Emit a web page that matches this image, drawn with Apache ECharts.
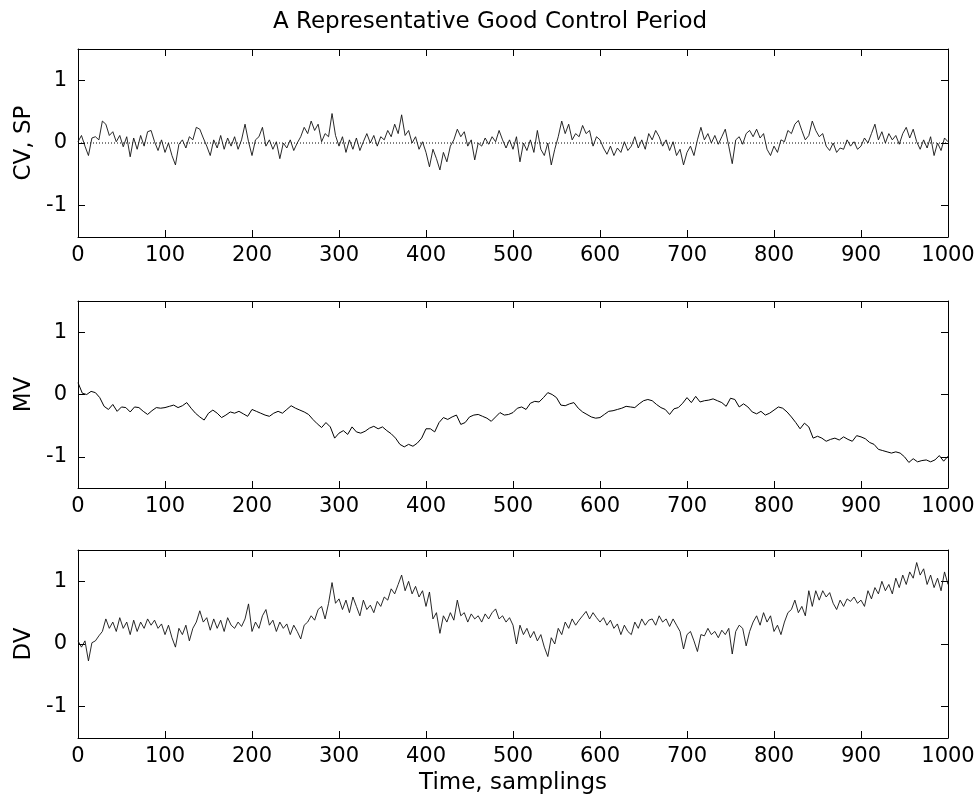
<!DOCTYPE html>
<html>
<head>
<meta charset="utf-8">
<script src="https://cdn.jsdelivr.net/npm/echarts@6/dist/echarts.min.js"></script>
<style>
html,body{margin:0;padding:0;background:#fff;}
#chart{width:980px;height:812px;}
</style>
</head>
<body>
<div id="chart"></div>
<script>
// ---- data ----
const titleText = "A Representative Good Control Period";
const panelNames = ["CV, SP", "MV", "DV"];
const xAxisName = "Time, samplings";
const xTicks = [0, 100, 200, 300, 400, 500, 600, 700, 800, 900, 1000];
const yTicks = [-1, 0, 1];

// CV sampled every 4 samplings (0..1000)
const cvStep = 4;
const cv = [
  0.02, 0.12, -0.05, -0.2, 0.08, 0.1, 0.05, 0.35, 0.3, 0.12, 0.18, 0.02, 0.12, -0.06, 0.1, -0.22, 0.08, -0.1, 0.12, -0.05, 0.18, 0.2, 0.02, -0.12, 0.05,
  -0.15, 0.0, -0.2, -0.35, -0.02, 0.05, -0.08, 0.1, 0.05, 0.25, 0.22, 0.08, -0.05, -0.2, 0.05, -0.08, 0.12, -0.1, 0.08, -0.05, 0.1, -0.1, 0.05, 0.3, 0.02,
  -0.2, 0.05, 0.1, 0.25, -0.05, 0.05, -0.1, 0.02, -0.25, 0.0, -0.08, 0.05, -0.12, 0.0, 0.1, 0.25, 0.15, 0.35, 0.2, 0.3, 0.02, 0.15, 0.1, 0.47, 0.12,
  -0.05, 0.1, -0.15, 0.05, -0.1, 0.08, -0.12, 0.02, 0.15, 0.0, 0.12, -0.05, 0.1, 0.05, 0.2, 0.1, 0.3, 0.15, 0.45, 0.12, 0.2, 0.0, 0.1, -0.1, 0.02,
  -0.15, -0.38, -0.1, -0.25, -0.43, -0.15, -0.3, -0.05, 0.05, 0.22, 0.1, 0.18, -0.05, 0.05, -0.27, 0.0, -0.05, 0.08, -0.02, 0.1, 0.02, 0.2, 0.05, -0.08, 0.05,
  -0.1, 0.1, -0.3, 0.0, -0.12, 0.05, -0.15, 0.2, -0.1, -0.2, 0.0, -0.35, -0.1, 0.1, 0.35, 0.15, 0.3, 0.05, 0.15, 0.1, 0.28, 0.15, 0.2, -0.05, 0.1,
  0.05, -0.08, -0.18, -0.05, -0.2, -0.08, -0.15, 0.02, -0.12, -0.05, 0.1, -0.08, 0.05, -0.1, 0.15, 0.05, 0.2, 0.1, -0.05, 0.05, -0.12, 0.02, -0.2, -0.1, -0.35,
  -0.15, -0.05, -0.2, 0.05, 0.25, 0.05, 0.15, 0.0, 0.12, -0.02, 0.1, 0.22, -0.05, -0.33, 0.05, 0.1, -0.02, 0.15, 0.2, 0.1, 0.22, 0.08, 0.15, -0.1, -0.2,
  -0.05, -0.15, 0.05, 0.02, 0.2, 0.15, 0.3, 0.36, 0.2, 0.05, 0.12, 0.35, 0.2, 0.1, 0.15, -0.05, -0.12, 0.0, -0.15, -0.08, -0.1, 0.05, -0.05, 0.02, -0.1,
  -0.05, 0.08, 0.0, 0.15, 0.3, 0.05, 0.18, 0.0, 0.15, 0.05, 0.12, -0.02, 0.15, 0.25, 0.08, 0.22, 0.02, -0.1, 0.05, -0.08, 0.1, -0.2, 0.0, -0.12, 0.08, 0.02
];

// SP (set point), constant
const spX = [0, 1000];
const sp = [0, 0];

// MV sampled every 5 samplings (0..1000)
const mvStep = 5;
const mv = [
  0.19, 0.02, 0.0, 0.05, 0.03, -0.05, -0.19, -0.24, -0.16, -0.27, -0.2, -0.21, -0.28, -0.2, -0.21, -0.27, -0.32, -0.26, -0.21, -0.22,
  -0.21, -0.19, -0.17, -0.21, -0.18, -0.13, -0.22, -0.3, -0.36, -0.41, -0.3, -0.25, -0.3, -0.37, -0.33, -0.28, -0.3, -0.27, -0.31, -0.35,
  -0.24, -0.27, -0.3, -0.33, -0.35, -0.3, -0.27, -0.3, -0.24, -0.18, -0.22, -0.25, -0.28, -0.32, -0.4, -0.47, -0.53, -0.45, -0.52, -0.7,
  -0.62, -0.58, -0.64, -0.52, -0.6, -0.62, -0.59, -0.54, -0.51, -0.55, -0.52, -0.58, -0.63, -0.7, -0.8, -0.84, -0.8, -0.83, -0.78, -0.7,
  -0.55, -0.55, -0.6, -0.45, -0.37, -0.4, -0.36, -0.33, -0.48, -0.45, -0.36, -0.33, -0.32, -0.35, -0.38, -0.43, -0.36, -0.29, -0.33, -0.32,
  -0.29, -0.22, -0.2, -0.24, -0.14, -0.11, -0.12, -0.05, 0.03, 0.0, -0.05, -0.17, -0.18, -0.15, -0.13, -0.22, -0.28, -0.32, -0.36, -0.38,
  -0.37, -0.32, -0.27, -0.26, -0.24, -0.22, -0.19, -0.2, -0.21, -0.15, -0.1, -0.08, -0.1, -0.16, -0.21, -0.24, -0.32, -0.23, -0.21, -0.14,
  -0.05, -0.13, -0.03, -0.12, -0.1, -0.09, -0.07, -0.1, -0.13, -0.19, -0.06, -0.08, -0.2, -0.15, -0.2, -0.28, -0.31, -0.27, -0.33, -0.3,
  -0.25, -0.2, -0.22, -0.28, -0.36, -0.45, -0.55, -0.46, -0.52, -0.7, -0.67, -0.7, -0.75, -0.72, -0.7, -0.73, -0.68, -0.72, -0.75, -0.66,
  -0.68, -0.71, -0.77, -0.8, -0.88, -0.9, -0.92, -0.94, -0.92, -0.94, -1.0, -1.09, -1.03, -1.08, -1.06, -1.05, -1.08, -1.05, -0.98, -1.07, -0.99
];

// DV sampled every 4 samplings (0..1000)
const dvStep = 4;
const dv = [
  0.05, -0.05, 0.05, -0.27, 0.02, 0.05, 0.13, 0.2, 0.4, 0.25, 0.35, 0.2, 0.42, 0.25, 0.35, 0.15, 0.38, 0.2, 0.35, 0.25, 0.4, 0.3, 0.38, 0.25, 0.32,
  0.15, 0.3, 0.1, -0.05, 0.25, 0.15, 0.3, 0.05, 0.25, 0.35, 0.53, 0.35, 0.42, 0.22, 0.4, 0.25, 0.38, 0.2, 0.42, 0.3, 0.25, 0.35, 0.28, 0.4, 0.64,
  0.2, 0.35, 0.25, 0.45, 0.55, 0.3, 0.38, 0.2, 0.35, 0.25, 0.32, 0.15, 0.3, 0.2, 0.08, 0.3, 0.35, 0.45, 0.38, 0.55, 0.6, 0.4, 0.65, 0.98, 0.65,
  0.72, 0.55, 0.7, 0.5, 0.75, 0.6, 0.45, 0.7, 0.55, 0.62, 0.5, 0.68, 0.6, 0.75, 0.7, 0.88, 0.8, 0.95, 1.1, 0.85, 1.0, 0.8, 0.92, 0.75, 0.85,
  0.6, 0.83, 0.4, 0.5, 0.17, 0.45, 0.35, 0.5, 0.38, 0.7, 0.45, 0.5, 0.35, 0.48, 0.4, 0.45, 0.35, 0.48, 0.4, 0.5, 0.56, 0.4, 0.45, 0.35, 0.42,
  0.3, 0.0, 0.3, 0.15, 0.25, 0.1, 0.2, 0.05, 0.15, -0.05, -0.2, 0.1, 0.0, 0.25, 0.15, 0.35, 0.25, 0.4, 0.3, 0.38, 0.45, 0.52, 0.4, 0.5, 0.42,
  0.35, 0.42, 0.3, 0.38, 0.25, 0.32, 0.15, 0.3, 0.2, 0.15, 0.35, 0.25, 0.4, 0.3, 0.38, 0.4, 0.3, 0.45, 0.35, 0.4, 0.28, 0.4, 0.3, 0.2, -0.08,
  0.15, 0.2, 0.05, -0.12, 0.15, 0.13, 0.25, 0.15, 0.2, 0.1, 0.22, 0.15, 0.25, -0.16, 0.2, 0.3, 0.25, -0.03, 0.2, 0.35, 0.45, 0.3, 0.5, 0.35, 0.45,
  0.2, 0.3, 0.15, 0.35, 0.5, 0.55, 0.7, 0.5, 0.6, 0.45, 0.85, 0.6, 0.85, 0.7, 0.85, 0.75, 0.82, 0.65, 0.55, 0.7, 0.6, 0.72, 0.68, 0.75, 0.65,
  0.7, 0.6, 0.85, 0.72, 0.9, 0.8, 1.0, 0.85, 0.95, 0.8, 1.05, 0.9, 1.1, 0.95, 1.15, 1.05, 1.3, 1.1, 1.2, 0.95, 1.1, 0.9, 1.05, 0.85, 1.15, 0.95
];

// ---- chart ----
const FONT = "DejaVu Sans";
const chart = echarts.init(document.getElementById('chart'), null, {renderer: 'canvas'});

const grids = [
  {left: 78, right: 32, top: 49, height: 188},
  {left: 78, right: 32, top: 301, height: 187},
  {left: 78, right: 32, top: 550, height: 188}
];

const lineAxis = {show: true, onZero: false, lineStyle: {color: '#000', width: 1}};
const tickStyle = {inside: true, length: 7, lineStyle: {color: '#000', width: 1}};
const xAxes = [], yAxes = [];
grids.forEach((g, i) => {
  xAxes.push({
    type: 'value', gridIndex: i, min: 0, max: 1000, interval: 100, position: 'bottom',
    axisLine: lineAxis, splitLine: {show: false},
    axisTick: Object.assign({customValues: xTicks}, tickStyle),
    axisLabel: {color: '#000', fontFamily: FONT, fontSize: 21, margin: 8,
                customValues: xTicks, formatter: v => String(v)},
    name: i === 2 ? xAxisName : '', nameLocation: 'middle', nameGap: 34,
    nameTextStyle: {color: '#000', fontFamily: FONT, fontSize: 23}
  });
  xAxes.push({
    type: 'value', gridIndex: i, min: 0, max: 1000, interval: 100, position: 'top',
    axisLine: lineAxis, splitLine: {show: false},
    axisTick: Object.assign({customValues: xTicks}, tickStyle),
    axisLabel: {show: false}
  });
  yAxes.push({
    type: 'value', gridIndex: i, min: -1.5, max: 1.5, position: 'left',
    axisLine: lineAxis, splitLine: {show: false},
    axisTick: Object.assign({customValues: yTicks}, tickStyle),
    axisLabel: {color: '#000', fontFamily: FONT, fontSize: 21, margin: 11,
                customValues: yTicks, formatter: v => String(v)},
    name: panelNames[i], nameLocation: 'middle', nameGap: 42, nameRotate: 90,
    nameTextStyle: {color: '#000', fontFamily: FONT, fontSize: 23}
  });
  yAxes.push({
    type: 'value', gridIndex: i, min: -1.5, max: 1.5, position: 'right',
    axisLine: lineAxis, splitLine: {show: false},
    axisTick: Object.assign({customValues: yTicks}, tickStyle),
    axisLabel: {show: false}
  });
});

function pairs(arr, step) { return arr.map((v, k) => [k * step, v]); }

const option = {
  backgroundColor: '#fff',
  animation: false,
  title: {
    text: titleText, left: 'center', top: 6,
    textStyle: {color: '#000', fontFamily: FONT, fontSize: 23, fontWeight: 'normal'}
  },
  grid: grids,
  xAxis: xAxes,
  yAxis: yAxes,
  series: [
    {name: 'SP', type: 'line', xAxisIndex: 0, yAxisIndex: 0, data: spX.map((x, k) => [x, sp[k]]),
     symbol: 'none', lineStyle: {color: '#000', width: 1, type: [1, 2]}, z: 1},
    {name: 'CV', type: 'line', xAxisIndex: 0, yAxisIndex: 0, data: pairs(cv, cvStep),
     symbol: 'none', lineStyle: {color: '#111', width: 0.9}, z: 2},
    {name: 'MV', type: 'line', xAxisIndex: 2, yAxisIndex: 2, data: pairs(mv, mvStep),
     symbol: 'none', lineStyle: {color: '#000', width: 1}},
    {name: 'DV', type: 'line', xAxisIndex: 4, yAxisIndex: 4, data: pairs(dv, dvStep),
     symbol: 'none', lineStyle: {color: '#111', width: 0.9}}
  ]
};
chart.setOption(option);
</script>
</body>
</html>
